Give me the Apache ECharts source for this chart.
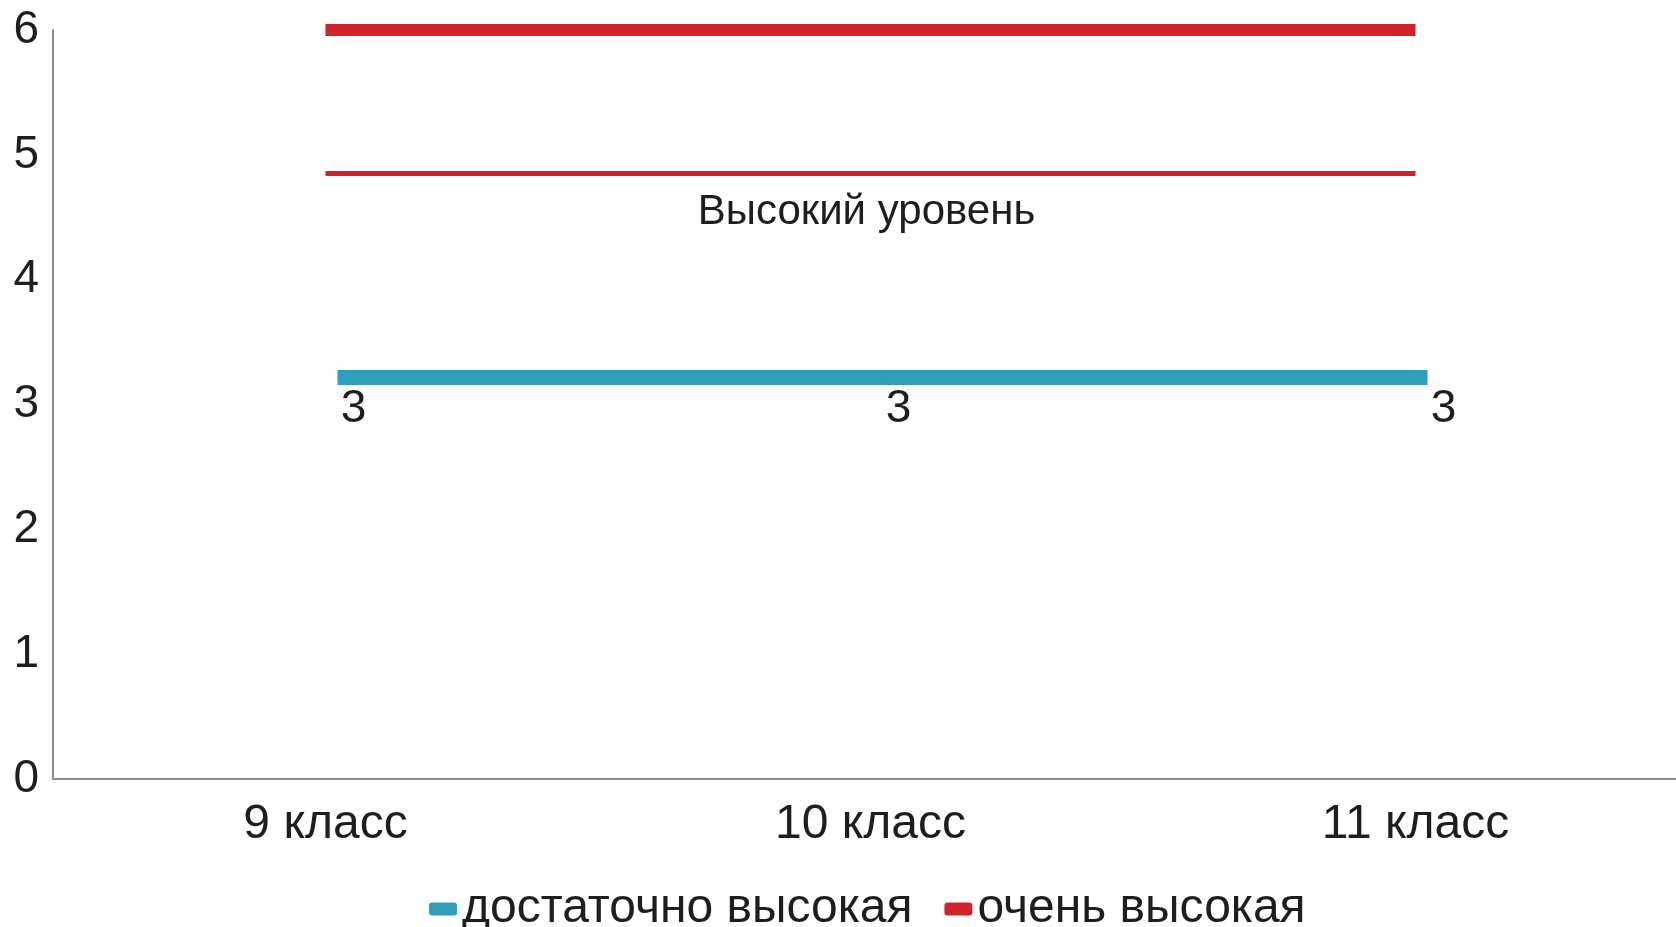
<!DOCTYPE html>
<html>
<head>
<meta charset="utf-8">
<script src="https://cdn.jsdelivr.net/npm/echarts@6/dist/echarts.min.js"></script>
<style>
html,body{margin:0;padding:0;background:#fff;}
#chart{width:1676px;height:927px;}
</style>
</head>
<body>
<div id="chart"></div>
<script>
const categories = ['9 класс', '10 класс', '11 класс'];
const fairlyHigh = [3, 3, 3];
const veryHigh = [6, 6, 6];
const highLevel = 4.85;
const highLevelLabel = 'Высокий уровень';
const seriesNames = ['достаточно высокая', 'очень высокая'];

const FONT = '"Liberation Sans", Arial, sans-serif';
const TEXT = '#1e1e1e';
const TEAL = '#309fba';
const RED = '#d1232a';

const chart = echarts.init(document.getElementById('chart'));
chart.setOption({
  animation: false,
  backgroundColor: '#ffffff',
  textStyle: { fontFamily: FONT },
  grid: [
    { left: 53, width: 1635, top: 30, bottom: 148, containLabel: false, outerBoundsMode: 'none' },
    { left: 65, width: 1635, top: 3, bottom: 175, containLabel: false, outerBoundsMode: 'none' }
  ],
  xAxis: [
    {
      type: 'category', gridIndex: 0, data: categories, boundaryGap: true,
      axisLine: { lineStyle: { color: '#8a8a8a', width: 2 } },
      axisTick: { show: false },
      axisLabel: { color: TEXT, fontSize: 48, fontFamily: FONT, margin: 22 }
    },
    {
      type: 'category', gridIndex: 1, data: categories, boundaryGap: true,
      show: false
    }
  ],
  yAxis: [
    {
      type: 'value', gridIndex: 0, min: 0, max: 6, interval: 1,
      axisLine: { show: true, lineStyle: { color: '#8a8a8a', width: 2 } },
      axisTick: { show: false },
      splitLine: { show: false },
      axisLabel: { color: TEXT, fontSize: 46, fontFamily: FONT, margin: 14 }
    },
    {
      type: 'value', gridIndex: 1, min: 0, max: 6, interval: 1, show: false,
      splitLine: { show: false }
    }
  ],
  legend: {
    data: seriesNames,
    left: 424, top: 880,
    itemWidth: 28, itemHeight: 13, itemGap: 32,
    icon: 'roundRect',
    textStyle: { color: TEXT, fontSize: 48, fontFamily: FONT, padding: [0, 0, 0, 0] }
  },
  series: [
    {
      name: seriesNames[0], type: 'line',
      xAxisIndex: 1, yAxisIndex: 1,
      data: fairlyHigh,
      color: TEAL,
      symbol: 'circle', symbolSize: 1,
      clip: false,
      lineStyle: { color: TEAL, width: 15, cap: 'butt' },
      itemStyle: { color: TEAL },
      label: {
        show: true, position: 'inside', offset: [16, 32],
        color: TEXT, fontSize: 46, fontFamily: FONT
      },
      emphasis: { disabled: true },
      z: 3
    },
    {
      name: seriesNames[1], type: 'line',
      xAxisIndex: 0, yAxisIndex: 0,
      data: veryHigh,
      color: RED,
      showSymbol: false, symbol: 'none',
      clip: false,
      lineStyle: { color: RED, width: 12, cap: 'butt' },
      itemStyle: { color: RED },
      emphasis: { disabled: true },
      markLine: {
        silent: true,
        symbol: ['none', 'none'],
        lineStyle: { color: RED, width: 5, type: 'solid' },
        label: {
          show: true, position: 'insideMiddleBottom', distance: 18, offset: [-4, 0],
          formatter: highLevelLabel,
          color: TEXT, fontSize: 42, fontFamily: FONT
        },
        data: [[
          { coord: [0, highLevel] },
          { coord: [categories.length - 1, highLevel] }
        ]]
      },
      z: 4
    }
  ]
});
</script>
</body>
</html>
